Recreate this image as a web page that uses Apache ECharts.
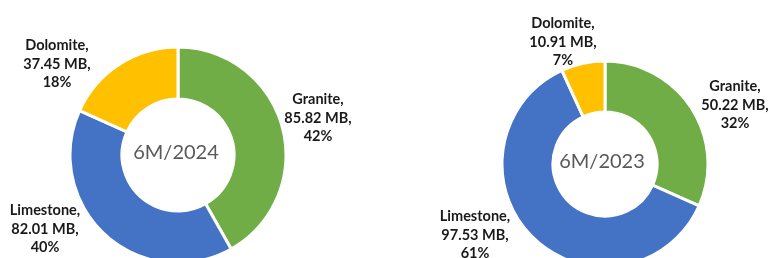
<!DOCTYPE html>
<html>
<head>
<meta charset="utf-8">
<script src="https://cdn.jsdelivr.net/npm/echarts@6/dist/echarts.min.js"></script>
<style>
  html, body { margin: 0; padding: 0; background: #fff; }
  #chart { width: 770px; height: 258px; }
</style>
</head>
<body>
<div id="chart"></div>
<script>
// slice names and values (MB), clockwise from 12 o'clock
const names = ['Granite', 'Limestone', 'Dolomite'];
const values2024 = [85.82, 82.01, 37.45];
const values2023 = [50.22, 97.53, 10.91];
const colors = ['#70AD47', '#4472C4', '#FFC000'];
const periods = ['6M/2024', '6M/2023'];

// where each label block sits (middle line centre), per series, per slice
const labelSpots = [
    [[318, 118], [45, 229], [57, 64]],
    [[735, 105], [475, 235], [563, 42]]
];

const chart = echarts.init(document.getElementById('chart'));

function toData(vals) {
    return names.map((n, i) => ({ name: n, value: vals[i], itemStyle: { color: colors[i] } }));
}

function donut(vals, center, radius) {
    return {
        type: 'pie',
        center: center,
        radius: radius,
        startAngle: 90,
        clockwise: true,
        percentPrecision: 0,
        avoidLabelOverlap: false,
        itemStyle: { borderColor: '#fff', borderWidth: 3 },
        label: {
            show: true,
            position: 'outside',
            formatter: '{b},\n{c} MB,\n{d}%',
            fontFamily: 'Lato',
            fontWeight: 'bold',
            fontSize: 14.5,
            lineHeight: 18.5,
            color: '#1a1a1a'
        },
        labelLine: { show: false },
        labelLayout: function (p) {
            const s = labelSpots[p.seriesIndex][p.dataIndex];
            return { x: s[0], y: s[1], align: 'center', verticalAlign: 'middle', hideOverlap: false };
        },
        emphasis: { disabled: true },
        data: toData(vals)
    };
}

const option = {
    animation: false,
    graphic: [
        { type: 'text', x: 176, y: 153, style: { text: periods[0], fontFamily: 'Lato', fontSize: 20, fill: '#595959', align: 'center', verticalAlign: 'middle' } },
        { type: 'text', x: 602, y: 162, style: { text: periods[1], fontFamily: 'Lato', fontSize: 20, fill: '#595959', align: 'center', verticalAlign: 'middle' } }
    ],
    series: [
        donut(values2024, [178, 155], [56, 108]),
        donut(values2023, [605, 164], [52, 103])
    ]
};

chart.setOption(option);
</script>
</body>
</html>
